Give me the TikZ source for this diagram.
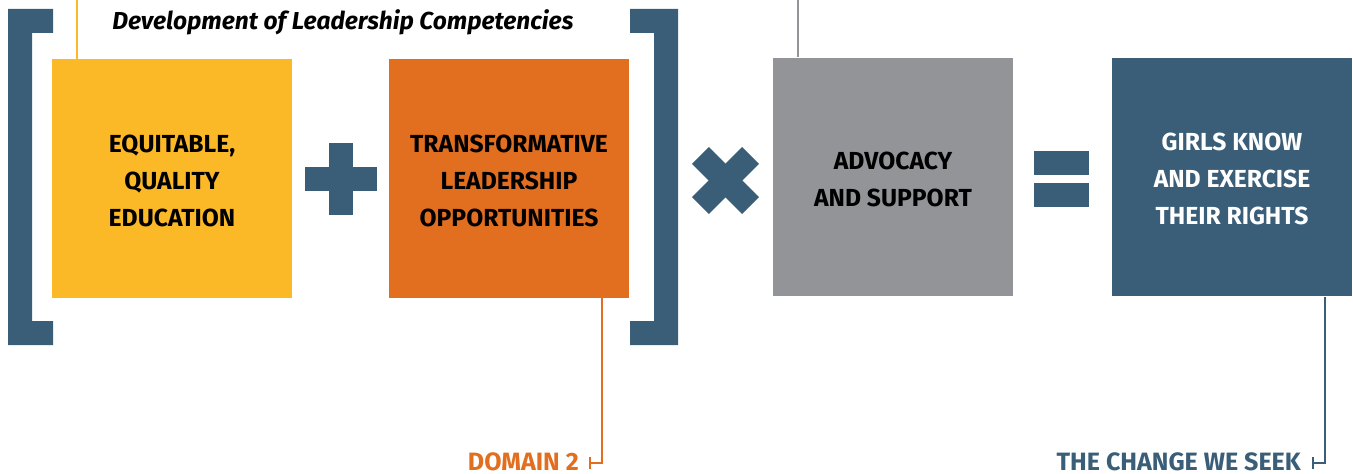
\documentclass[tikz,border=0pt]{standalone}
\usepackage{fontspec}
\setmainfont{Fira Sans}
\definecolor{cyellow}{RGB}{251,185,39}
\definecolor{corange}{RGB}{226,110,32}
\definecolor{cgray}{RGB}{147,148,152}
\definecolor{cblue}{RGB}{58,93,120}
\newcommand{\lowered}[1]{\raisebox{-1.6pt}[\height][\depth]{\parbox{180pt}{\centering #1}}}
\begin{document}
\begin{tikzpicture}[x=0.75pt,y=-0.75pt,
  box/.style={minimum width=180pt,minimum height=179pt,inner sep=0pt,align=center,
    font=\fontsize{18.5pt}{27.75pt}\selectfont\bfseries},
  lead/.style={line width=2.2pt},
  lbl/.style={font=\fontsize{18.8pt}{22pt}\selectfont\bfseries,inner sep=0pt}]
\useasboundingbox (0,0) rectangle (1353,474);
% brackets
\fill[cblue] (8,9) -- (53,9) -- (53,33) -- (32,33) -- (32,321) -- (53,321) -- (53,345) -- (8,345) -- cycle;
\fill[cblue] (678,9) -- (630,9) -- (630,33) -- (654,33) -- (654,321) -- (630,321) -- (630,345) -- (678,345) -- cycle;
% boxes
\node[box,fill=cyellow] (edu) at (172,178.5) {\lowered{EQUITABLE,\\QUALITY\\EDUCATION}};
\node[box,fill=corange] (lead) at (509,178.5) {\lowered{TRANSFORMATIVE\\LEADERSHIP\\OPPORTUNITIES}};
\node[box,fill=cgray] (adv) at (893,177) {\lowered{ADVOCACY\\AND SUPPORT}};
\node[box,fill=cblue,text=white] (girls) at (1232,177) {\lowered{GIRLS KNOW\\AND EXERCISE\\THEIR RIGHTS}};
% title
\node[anchor=base west,inner sep=0pt,font=\fontsize{18.4pt}{22pt}\selectfont\bfseries\itshape] (title) at (112,29.5) {Development of Leadership Competencies};
% operators
\fill[cblue] (305,167) rectangle (377,191);
\fill[cblue] (329,143) rectangle (353,215);
\begin{scope}[shift={(725.5,180.5)},rotate=45]
\fill[cblue] (-35.5,-12) rectangle (35.5,12);
\fill[cblue] (-12,-35.5) rectangle (12,35.5);
\end{scope}
\fill[cblue] (1034,151) rectangle (1089,175);
\fill[cblue] (1034,183) rectangle (1089,207);
% leaders
\coordinate (ytop) at (77,0);
\coordinate (gtop) at (798,0);
\draw[lead,cyellow] (ytop) -- (ytop |- edu.north);
\draw[lead,cgray] (gtop) -- (gtop |- adv.north);
\coordinate (oc) at (602,463);
\coordinate (bc) at (1325,463);
\draw[lead,corange] (lead.south -| oc) -- (oc) -- (590,463);
\draw[lead,corange] (590,457) -- (590,469);
\draw[lead,cblue] (girls.south -| bc) -- (bc) -- (1313,463);
\draw[lead,cblue] (1313,457) -- (1313,469);
\node[lbl,text=corange,anchor=base east] (dom) at (579,470) {DOMAIN 2};
\node[lbl,text=cblue,anchor=base east] (chg) at (1301,470) {THE CHANGE WE SEEK};
\end{tikzpicture}
\end{document}
